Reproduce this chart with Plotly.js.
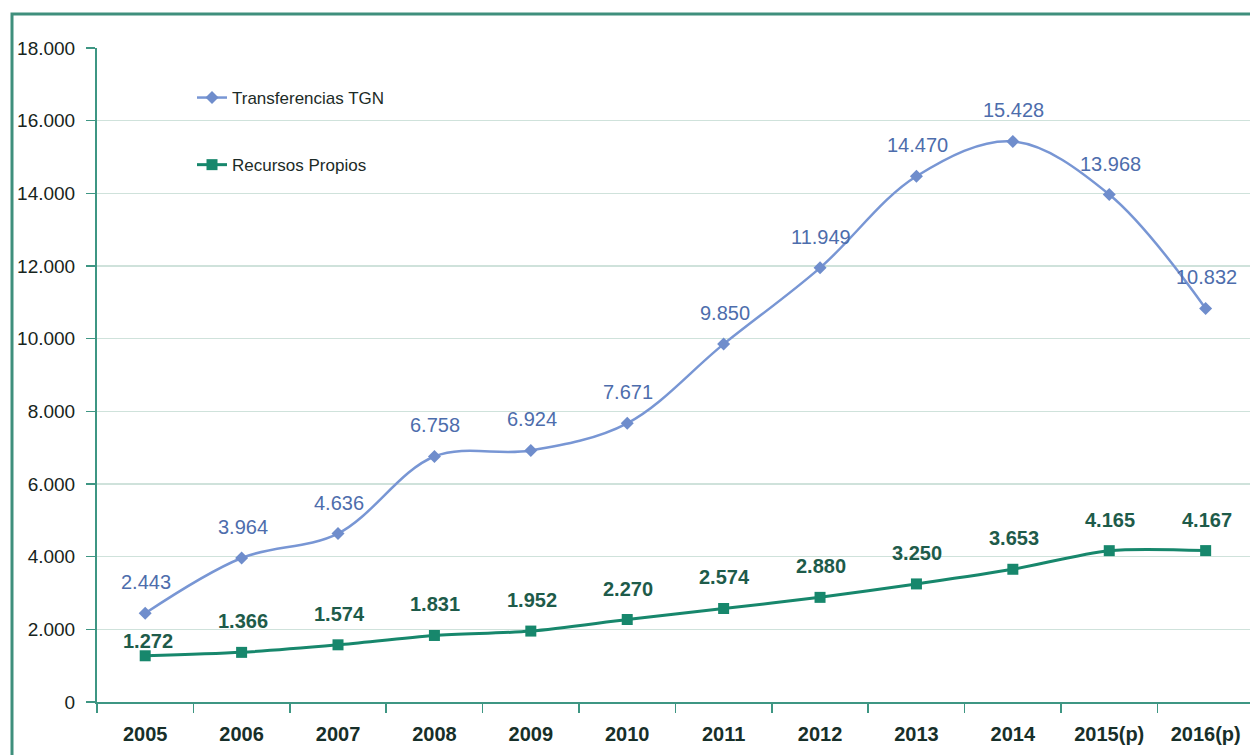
<!DOCTYPE html>
<html>
<head>
<meta charset="utf-8">
<script src="https://cdn.plot.ly/plotly-3.0.1.min.js"></script>
<style>
html,body{margin:0;padding:0;background:#fff;}
#chart{width:1250px;height:755px;}
</style>
</head>
<body>
<div id="chart"></div>
<script>
const years = ["2005","2006","2007","2008","2009","2010","2011","2012","2013","2014","2015(p)","2016(p)"];
const transferenciasTGN = [2443,3964,4636,6758,6924,7671,9850,11949,14470,15428,13968,10832];
const recursosPropios = [1272,1366,1574,1831,1952,2270,2574,2880,3250,3653,4165,4167];
const yTickVals = [0,2000,4000,6000,8000,10000,12000,14000,16000,18000];
const yTickText = ["0","2.000","4.000","6.000","8.000","10.000","12.000","14.000","16.000","18.000"];

const FONT = "'Liberation Sans', Arial, sans-serif";
const fmt = v => v.toLocaleString('de-DE');

const W = 1250, H = 755;
const mL = 97, mR = 0, mT = 48, mB = 53;
const pw = W - mL - mR, ph = H - mT - mB;

const traces = [
  {
    x: years, y: transferenciasTGN, type: 'scatter', mode: 'lines+markers',
    name: 'Transferencias TGN', legendgroup: 'a',
    line: {color: '#7896d4', width: 2.5, shape: 'spline', smoothing: 1},
    marker: {symbol: 'diamond', size: 10, color: '#6f8dcc'},
    hoverinfo: 'x+y'
  },
  {
    x: years, y: recursosPropios, type: 'scatter', mode: 'lines+markers',
    name: 'Recursos Propios', legendgroup: 'b',
    line: {color: '#17876c', width: 3, shape: 'spline', smoothing: 0.8},
    marker: {symbol: 'square', size: 11, color: '#17876c'},
    hoverinfo: 'x+y'
  }
];

const annotations = [];
years.forEach((yr, i) => {
  annotations.push({
    x: i, y: transferenciasTGN[i], xref: 'x', yref: 'y',
    text: fmt(transferenciasTGN[i]), showarrow: false,
    yanchor: 'middle', xanchor: 'center', yshift: 31, xshift: 1,
    font: {family: FONT, size: 20, color: '#4d6dac'}
  });
  annotations.push({
    x: i, y: recursosPropios[i], xref: 'x', yref: 'y',
    text: '<b>' + fmt(recursosPropios[i]) + '</b>', showarrow: false,
    yanchor: 'middle', xanchor: 'center', yshift: i === 0 ? 15 : 31, xshift: i === 0 ? 3 : 1,
    font: {family: FONT, size: 20, color: '#1e5b4a'}
  });
});

const px2x = p => (p - mL) / pw;
const py2y = p => (H - mB - p) / ph;
const shapes = [{
  type: 'rect', xref: 'paper', yref: 'paper',
  x0: px2x(12), x1: px2x(1262), y0: py2y(770), y1: py2y(14),
  line: {color: '#3f8f7c', width: 3}, fillcolor: 'rgba(0,0,0,0)', layer: 'below'
}];

const layout = {
  width: W, height: H,
  margin: {l: mL, r: mR, t: mT, b: mB, pad: 0},
  paper_bgcolor: '#ffffff', plot_bgcolor: '#ffffff',
  showlegend: true,
  legend: {
    x: px2x(192), y: py2y(80), xanchor: 'left', yanchor: 'top',
    bgcolor: 'rgba(0,0,0,0)', borderwidth: 0,
    font: {family: FONT, size: 17, color: '#1c2b27'},
    tracegroupgap: 42, traceorder: 'grouped'
  },
  xaxis: {
    type: 'category', range: [-0.5, 11.46],
    showline: true, linecolor: '#3e9683', linewidth: 2,
    ticks: 'outside', tickson: 'boundaries', ticklen: 9, tickcolor: '#3e9683', tickwidth: 1.5,
    showgrid: false, zeroline: false, tickangle: 0,
    tickfont: {family: FONT, size: 20, color: '#172f29', weight: 'bold'},
    ticklabelstandoff: 13,
    fixedrange: true
  },
  yaxis: {
    range: [0, 18000], tickvals: yTickVals, ticktext: yTickText,
    showline: true, linecolor: '#3e9683', linewidth: 2,
    ticks: 'outside', ticklen: 9, tickcolor: '#3e9683', tickwidth: 1.5,
    showgrid: true, gridcolor: '#cfe2db', gridwidth: 1.5,
    zeroline: false,
    tickfont: {family: FONT, size: 19, color: '#172420'},
    ticklabelstandoff: 7,
    fixedrange: true
  },
  annotations: annotations,
  shapes: shapes
};

Plotly.newPlot('chart', traces, layout, {displayModeBar: false, staticPlot: true});
</script>
</body>
</html>
